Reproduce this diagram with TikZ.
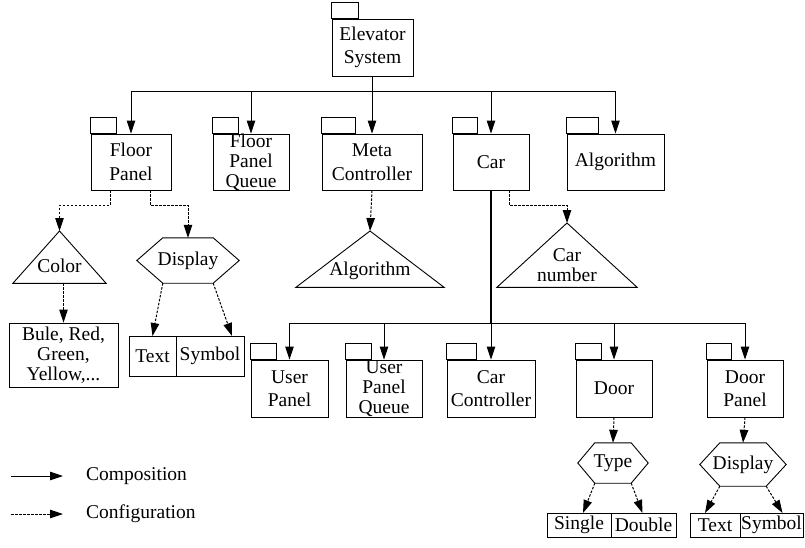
\documentclass[tikz,border=0pt]{standalone}
\usepackage{fontspec}
\setmainfont{Liberation Serif}
\usetikzlibrary{positioning,arrows.meta}

\tikzset{
  pkg/.style={draw, line width=0.9pt, minimum height=56pt, inner sep=1pt, align=center,
    append after command={\pgfextra{\draw[line width=0.9pt] (\tikzlastnode.north west) rectangle ++(#1,16pt);}}},
  pkg/.default=26pt,
  tri/.style={minimum width=#1, inner sep=0pt, anchor=north,
    append after command={\pgfextra{\draw[line width=0.9pt] (\tikzlastnode.north) -- (\tikzlastnode.south west) -- (\tikzlastnode.south east) -- cycle;}}},
  hexa/.style={inner sep=0pt,
    append after command={\pgfextra{\draw[line width=0.9pt] (\tikzlastnode.west) -- ([xshift=#1]\tikzlastnode.north west) -- ([xshift=-#1]\tikzlastnode.north east) -- (\tikzlastnode.east) -- ([xshift=-#1]\tikzlastnode.south east) -- ([xshift=#1]\tikzlastnode.south west) -- cycle;}}},
  partbox/.style={draw, line width=0.9pt, inner sep=1pt, outer sep=0pt},
  tight/.style={font=\fontsize{19.5}{20}\selectfont},
  comp/.style={->, line width=1pt},
  cfg/.style={->, line width=1pt, dash pattern=on 2.5pt off 1.5pt},
}

\begin{document}
\begin{tikzpicture}[x=1pt, y=-1pt, >={Triangle[length=13pt,width=8.5pt]}, font=\fontsize{19.5}{23.5}\selectfont]
\useasboundingbox (0,0) rectangle (805,547);

% packages, top level
\node[pkg=27pt, minimum width=81pt, minimum height=57pt] (elev) at (372.5,47.5) {Elevator\\System};
\node[pkg, minimum width=80pt] (floor) at (131,162) {Floor\\Panel};
\node[pkg, minimum width=76pt, tight, text height=13.5pt, text depth=42.5pt, inner sep=0pt] (fpq) at (251,162) {\begin{tabular}[t]{@{}c@{}}Floor\\Panel\\Queue\end{tabular}};
\node[pkg=34pt, minimum width=100pt] (meta) at (372,162) {Meta\\Controller};
\node[pkg=25pt, minimum width=76pt] (car) at (491,162) {Car};
\node[pkg=32pt, minimum width=97pt] (algo) at (615.5,162) {Algorithm};

% packages inside Car
\node[pkg, minimum width=77pt, minimum height=57pt] (upanel) at (289.5,388.5) {User\\Panel};
\node[pkg, minimum width=76pt, tight, text height=13.5pt, text depth=43.5pt, inner sep=0pt] (upq) at (384,388.5) {\begin{tabular}[t]{@{}c@{}}User\\Panel\\Queue\end{tabular}};
\node[pkg=30pt, minimum width=88pt, minimum height=57pt] (cctrl) at (491,388.5) {Car\\Controller};
\node[pkg, minimum width=76pt, minimum height=57pt] (door) at (614,388.5) {Door};
\node[pkg=25pt, minimum width=76pt, minimum height=57pt] (dpanel) at (745,388.5) {Door\\Panel};

% attributes
\node[tri=93pt, text height=41.5pt, text depth=10.5pt] (color) at (59.5,231) {Color};
\node[draw, line width=0.9pt, tight, align=center, minimum width=109pt, minimum height=64pt, inner sep=1pt] (bule) at (63.5,355) {Bule, Red,\\Green,\\Yellow,...};
\node[hexa=26pt, minimum width=102pt, minimum height=45pt] (disp) at (188,260.5) {Display};
\node[partbox, minimum width=47pt, minimum height=40pt] (text1) at (152.5,356) {Text};
\node[partbox, minimum width=68pt, minimum height=40pt, right=0pt of text1] (sym1) {Symbol};
\node[tri=148pt, text height=44.5pt, text depth=11.5pt] (algtri) at (370,231) {Algorithm};
\node[tri=140pt, tight, text height=38.5pt, text depth=25.5pt] (carnum) at (567,223) {\begin{tabular}[t]{@{}c@{}}Car\\number\end{tabular}};
\node[hexa=17pt, minimum width=70pt, minimum height=40pt] (type) at (613,463) {Type};
\node[partbox, minimum width=64pt, minimum height=24pt] (single) at (579,525) {Single};
\node[partbox, minimum width=65pt, minimum height=24pt, right=0pt of single] (double) {Double};
\node[hexa=20pt, minimum width=86pt, minimum height=43pt] (dpdisp) at (743,464.5) {Display};
\node[partbox, minimum width=50pt, minimum height=24pt] (text2) at (715,525) {Text};
\node[partbox, minimum width=63pt, minimum height=24pt, right=0pt of text2] (sym2) {Symbol};

% composition
\coordinate (bus1) at (372.5,91);
\draw[line width=1pt] (elev.south) -- (bus1);
\foreach \n in {floor,fpq,meta,car,algo}
  \draw[comp] (bus1) -| (\n.north);
\coordinate (bus2) at (491,323);
\draw[line width=1.8pt] (car.south) -- (bus2);
\foreach \n in {upanel,upq,cctrl,door,dpanel}
  \draw[comp] (bus2) -| (\n.north);

% configuration
\draw[cfg] ([xshift=-21pt]floor.south) -- ++(0,15) -| (color.north);
\draw[cfg] ([xshift=19pt]floor.south) -- ++(0,15) -| (disp.north);
\draw[cfg] (color.south -| bule.north) -- (bule.north);
\draw[cfg] ([xshift=26pt]disp.south west) -- (text1.north);
\draw[cfg] ([xshift=-26pt]disp.south east) -- ([xshift=22pt]sym1.north);
\draw[cfg] (meta.south) -- (algtri.north);
\draw[cfg] ([xshift=18pt]car.south) -- ++(0,15) -| (carnum.north);
\draw[cfg] (door.south) -- (type.north);
\draw[cfg] ([xshift=17pt]type.south west) -- ([xshift=4pt]single.north);
\draw[cfg] ([xshift=-17pt]type.south east) -- ([xshift=-1pt]double.north);
\draw[cfg] (dpanel.south) -- (dpdisp.north);
\draw[cfg] ([xshift=20pt]dpdisp.south west) -- ([xshift=-10pt]text2.north);
\draw[cfg] ([xshift=-20pt]dpdisp.south east) -- ([xshift=11pt]sym2.north);

% legend
\coordinate (lg1a) at (11,476);
\coordinate (lg1b) at (63,476);
\coordinate (lg2a) at (11,514);
\coordinate (lg2b) at (63,514);
\draw[comp] (lg1a) -- (lg1b);
\draw[cfg] (lg2a) -- (lg2b);
\node[anchor=west, inner sep=0pt] (lgcomp) at (86,476) {Composition};
\node[anchor=west, inner sep=0pt] (lgcfg) at (86,514) {Configuration};
\end{tikzpicture}
\end{document}
